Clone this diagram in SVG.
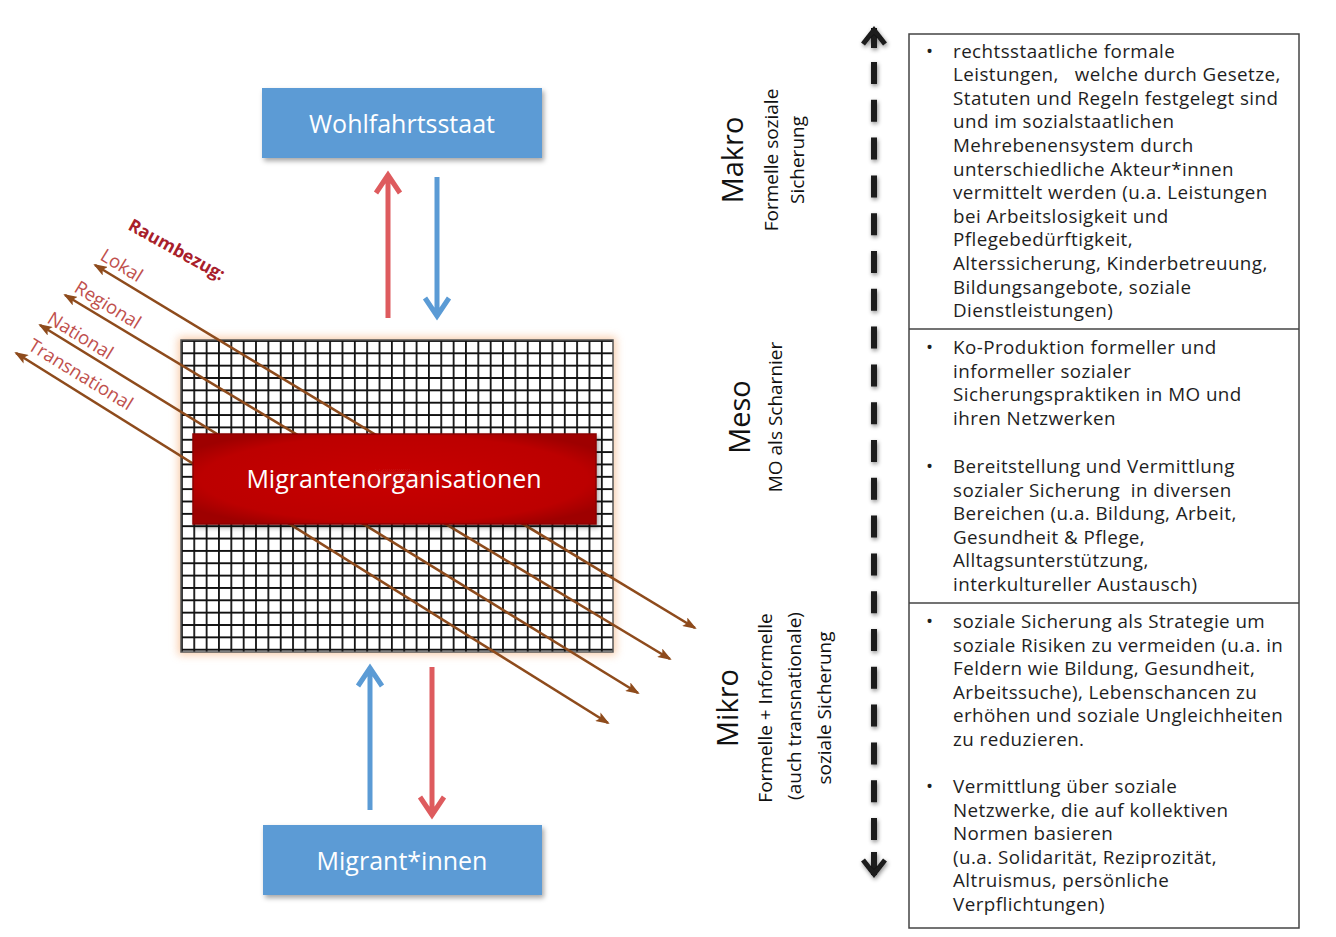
<svg xmlns="http://www.w3.org/2000/svg" width="1336" height="937" viewBox="0 0 1336 937">
<defs>
<style>
.t{font-family:"Open Sans","Noto Sans","DejaVu Sans",sans-serif;}
.title{font-size:25px;fill:#ffffff;text-anchor:middle;}
.bx{font-size:18.8px;letter-spacing:0.45px;fill:#1e1e1e;white-space:pre;}
.lab{font-size:18.5px;fill:#C0504D;}
.big{font-size:29px;fill:#111;text-anchor:middle;}
.sub{font-size:19px;fill:#111;text-anchor:middle;}
.blue{fill:#5B9BD5;}
.arrR{stroke:#DE5B5E;stroke-width:5;fill:none;stroke-linecap:butt;stroke-linejoin:miter;}
.arrB{stroke:#5B9BD5;stroke-width:5;fill:none;stroke-linecap:butt;stroke-linejoin:miter;}
.brown{stroke:#8E4B1C;stroke-width:2.6;fill:none;}
</style>
<marker id="bh" viewBox="0 0 14 10" refX="12" refY="5" markerWidth="14" markerHeight="10" markerUnits="userSpaceOnUse" orient="auto-start-reverse">
<path d="M0 0 L14 5 L0 10 L3 5 Z" fill="#8E4B1C"/>
</marker>
<pattern id="grid" patternUnits="userSpaceOnUse" x="181" y="340" width="12.35" height="12.35">
<rect width="12.35" height="12.35" fill="#ffffff"/>
<path d="M0 0.9H12.35M0.9 0V12.35" stroke="#111" stroke-width="1.8"/>
</pattern>
<filter id="sh" x="-20%" y="-20%" width="140%" height="150%">
<feDropShadow dx="2" dy="3" stdDeviation="2.5" flood-color="#000" flood-opacity="0.35"/>
</filter>
<filter id="glow" x="-10%" y="-10%" width="120%" height="120%">
<feGaussianBlur stdDeviation="4"/>
</filter>
<filter id="dsh" x="-200%" y="-5%" width="500%" height="110%">
<feDropShadow dx="1" dy="2" stdDeviation="2" flood-color="#000" flood-opacity="0.45"/>
</filter>
<radialGradient id="redg" cx="50%" cy="50%" r="60%">
<stop offset="0" stop-color="#C80808"/>
<stop offset="0.8" stop-color="#BC0000"/>
<stop offset="1" stop-color="#9E0000"/>
</radialGradient>
</defs>
<rect width="1336" height="937" fill="#ffffff"/>

<g id="wohlfahrtsstaat">
<rect x="262" y="88" width="280" height="70" class="blue" filter="url(#sh)"/>
<text class="t title" x="402" y="133">Wohlfahrtsstaat</text>
</g>

<g id="migrantinnen">
<rect x="263" y="825" width="279" height="70" class="blue" filter="url(#sh)"/>
<text class="t title" x="402" y="870">Migrant*innen</text>
</g>

<g id="grid-feld">
<rect x="178" y="337" width="438" height="318" fill="#F6B98A" opacity="0.7" filter="url(#glow)"/>
<rect x="181" y="340" width="432" height="312" fill="url(#grid)" stroke="#555" stroke-width="1.5"/>
</g>

<g id="connectors">
<path class="arrR" d="M388 318V175M376 193L388 175L400 193"/>
<path class="arrB" d="M437 177V316M425 298L437 316L449 298"/>
<path class="arrB" d="M370 810V668M358 686L370 668L382 686"/>
<path class="arrR" d="M432 667V815M420 797L432 815L444 797"/>
<line class="brown" x1="95" y1="265" x2="695" y2="628" marker-start="url(#bh)" marker-end="url(#bh)"/>
<line class="brown" x1="65" y1="295" x2="670" y2="659" marker-start="url(#bh)" marker-end="url(#bh)"/>
<line class="brown" x1="40" y1="325" x2="638" y2="693" marker-start="url(#bh)" marker-end="url(#bh)"/>
<line class="brown" x1="16" y1="353" x2="608" y2="723" marker-start="url(#bh)" marker-end="url(#bh)"/>
<g filter="url(#dsh)">
<path d="M874 28V48" stroke="#1a1a1a" stroke-width="6" fill="none"/>
<path d="M874 62V840" stroke="#1a1a1a" stroke-width="6" stroke-dasharray="22 15.8" fill="none"/>
<path d="M874 852V875" stroke="#1a1a1a" stroke-width="6" fill="none"/>
<path d="M863 44L874 30L885 44" stroke="#1a1a1a" stroke-width="5" fill="none"/>
<path d="M863 860L874 874L885 860" stroke="#1a1a1a" stroke-width="5" fill="none"/>
</g>
</g>

<g id="migrantenorganisationen">
<rect x="193" y="434" width="403" height="90" fill="url(#redg)" stroke="#8A0000" stroke-width="1.5" filter="url(#sh)"/>
<text class="t title" x="394" y="488">Migrantenorganisationen</text>
</g>

<g id="raumbezug">
<text class="t" font-size="17.5" font-weight="bold" fill="#A8202A" transform="translate(127,229) rotate(29)">Raumbezug:</text>
<text class="t lab" transform="translate(99,259) rotate(31.5)">Lokal</text>
<text class="t lab" transform="translate(73,291) rotate(31.5)">Regional</text>
<text class="t lab" transform="translate(46,322) rotate(31.5)">National</text>
<text class="t lab" transform="translate(27,349) rotate(31.5)">Transnational</text>
</g>

<g id="makro-label">
<text class="t big" transform="translate(743,160) rotate(-90)">Makro</text>
<text class="t sub" transform="translate(778,160) rotate(-90)">Formelle soziale</text>
<text class="t sub" transform="translate(804,160) rotate(-90)">Sicherung</text>
</g>
<g id="meso-label">
<text class="t big" transform="translate(750,417) rotate(-90)">Meso</text>
<text class="t sub" transform="translate(782,417) rotate(-90)">MO als Scharnier</text>
</g>
<g id="mikro-label">
<text class="t big" transform="translate(738,708) rotate(-90)">Mikro</text>
<text class="t sub" transform="translate(772,708) rotate(-90)">Formelle + Informelle</text>
<text class="t sub" transform="translate(801,706) rotate(-90)">(auch transnationale)</text>
<text class="t sub" transform="translate(831,708) rotate(-90)">soziale Sicherung</text>
</g>

<g id="textbox">
<rect x="909" y="34" width="390" height="894" fill="#ffffff" stroke="#444" stroke-width="1.5"/>
<line x1="909" y1="329" x2="1299" y2="329" stroke="#444" stroke-width="1.5"/>
<line x1="909" y1="603" x2="1299" y2="603" stroke="#444" stroke-width="1.5"/>
</g>

<g id="makro-text">
<text class="t bx" x="926" y="57.5">•</text>
<text class="t bx" x="953" y="57.5">rechtsstaatliche formale</text>
<text class="t bx" x="953" y="81.1">Leistungen,   welche durch Gesetze,</text>
<text class="t bx" x="953" y="104.7">Statuten und Regeln festgelegt sind</text>
<text class="t bx" x="953" y="128.3">und im sozialstaatlichen</text>
<text class="t bx" x="953" y="151.9">Mehrebenensystem durch</text>
<text class="t bx" x="953" y="175.5">unterschiedliche Akteur*innen</text>
<text class="t bx" x="953" y="199.1">vermittelt werden (u.a. Leistungen</text>
<text class="t bx" x="953" y="222.7">bei Arbeitslosigkeit und</text>
<text class="t bx" x="953" y="246.3">Pflegebedürftigkeit,</text>
<text class="t bx" x="953" y="269.9">Alterssicherung, Kinderbetreuung,</text>
<text class="t bx" x="953" y="293.5">Bildungsangebote, soziale</text>
<text class="t bx" x="953" y="317.1">Dienstleistungen)</text>
</g>

<g id="meso-text">
<text class="t bx" x="926" y="354">•</text>
<text class="t bx" x="953" y="354">Ko-Produktion formeller und</text>
<text class="t bx" x="953" y="377.6">informeller sozialer</text>
<text class="t bx" x="953" y="401.2">Sicherungspraktiken in MO und</text>
<text class="t bx" x="953" y="424.8">ihren Netzwerken</text>
<text class="t bx" x="926" y="473">•</text>
<text class="t bx" x="953" y="473">Bereitstellung und Vermittlung</text>
<text class="t bx" x="953" y="496.6">sozialer Sicherung  in diversen</text>
<text class="t bx" x="953" y="520.2">Bereichen (u.a. Bildung, Arbeit,</text>
<text class="t bx" x="953" y="543.8">Gesundheit &amp; Pflege,</text>
<text class="t bx" x="953" y="567.4">Alltagsunterstützung,</text>
<text class="t bx" x="953" y="591">interkultureller Austausch)</text>
</g>

<g id="mikro-text">
<text class="t bx" x="926" y="628">•</text>
<text class="t bx" x="953" y="628">soziale Sicherung als Strategie um</text>
<text class="t bx" x="953" y="651.6">soziale Risiken zu vermeiden (u.a. in</text>
<text class="t bx" x="953" y="675.2">Feldern wie Bildung, Gesundheit,</text>
<text class="t bx" x="953" y="698.8">Arbeitssuche), Lebenschancen zu</text>
<text class="t bx" x="953" y="722.4">erhöhen und soziale Ungleichheiten</text>
<text class="t bx" x="953" y="746">zu reduzieren.</text>
<text class="t bx" x="926" y="793">•</text>
<text class="t bx" x="953" y="793">Vermittlung über soziale</text>
<text class="t bx" x="953" y="816.6">Netzwerke, die auf kollektiven</text>
<text class="t bx" x="953" y="840.2">Normen basieren</text>
<text class="t bx" x="953" y="863.8">(u.a. Solidarität, Reziprozität,</text>
<text class="t bx" x="953" y="887.4">Altruismus, persönliche</text>
<text class="t bx" x="953" y="911">Verpflichtungen)</text>
</g>
</svg>
